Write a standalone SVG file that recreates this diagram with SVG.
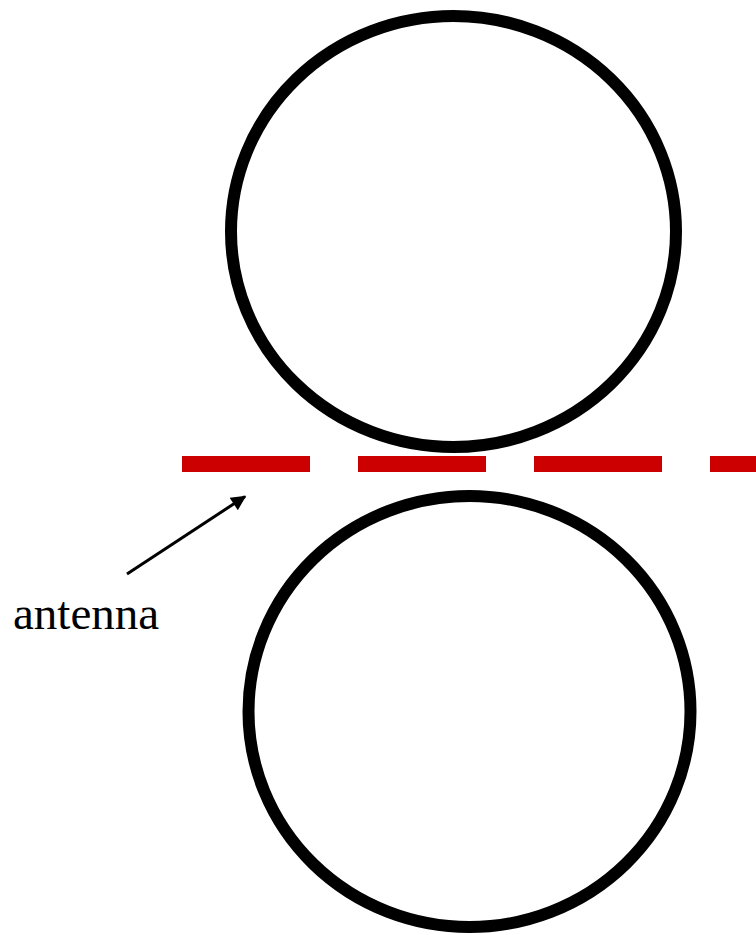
<svg xmlns="http://www.w3.org/2000/svg" width="756" height="935" viewBox="0 0 756 935">
<style>
.ring{fill:none;stroke:#000;stroke-width:12}
.antenna{stroke:#CC0000;stroke-width:16;stroke-dasharray:128 48;fill:none}
.lbl{font-family:"Liberation Serif","Times New Roman",serif;font-size:47px;fill:#000}
</style>
<defs>
<marker id="ah" viewBox="0 0 10 10" refX="9" refY="5" markerWidth="7" markerHeight="5" markerUnits="strokeWidth" orient="auto">
<path d="M0,0 L10,5 L0,10 z" fill="#000"/>
</marker>
</defs>
<rect width="756" height="935" fill="#fff"/>
<g id="top-circle"><ellipse class="ring" cx="453.5" cy="231.5" rx="222.5" ry="215.5"/></g>
<g id="bottom-circle"><ellipse class="ring" cx="469.5" cy="711.5" rx="221" ry="215.5"/></g>
<g id="antenna-line"><line class="antenna" x1="182" y1="464" x2="756" y2="464"/></g>
<g id="connectors"><line x1="127" y1="574" x2="245" y2="496.5" stroke="#000" stroke-width="3" marker-end="url(#ah)"/></g>
<g id="label"><text class="lbl" x="13" y="629">antenna</text></g>
</svg>
